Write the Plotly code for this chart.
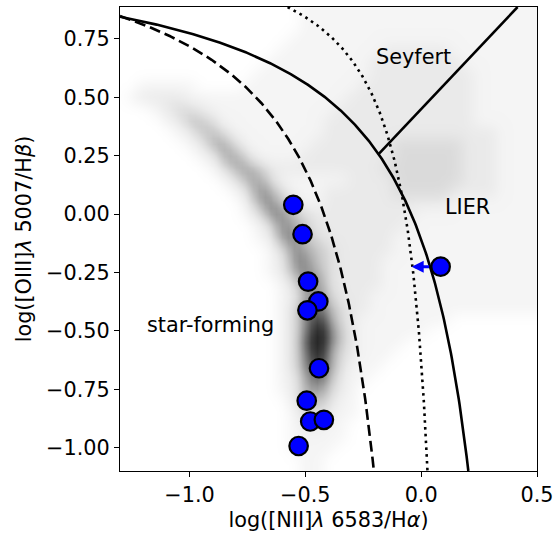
import numpy as np
import plotly.graph_objects as go

# ---- emission-line ratios of the sample -------------------------------
nii_ha = [-0.552, -0.512, -0.488, -0.444, -0.491, -0.441, -0.494, -0.479, -0.420, -0.529]
oiii_hb = [0.040, -0.086, -0.289, -0.374, -0.412, -0.660, -0.799, -0.888, -0.881, -0.993]

# object with only an upper limit on [NII]/Halpha
nii_ha_limit = [0.084]
oiii_hb_limit = [-0.225]

# ---- SDSS comparison sample: number-density levels (0 = empty, 9 = densest)
# bins of 0.05 dex; first row is log([OIII]/Hb) = 0.90, last row is -1.10,
# columns run from log([NII]/Ha) = -1.30 to 0.50
density_rows = [
    "0000000000000000111111111111111111111",
    "0000000000000000111111111111111111111",
    "0000000000000000111111111111111111111",
    "0000000000000001111111111111111111111",
    "0000000000000011111111122222211111111",
    "0000000000000111111111222222221111111",
    "0000000000001111111111222222222111111",
    "0011111000011111111112222222222111111",
    "0122221111111111111122222222222111111",
    "0001233211111111111222222222222111111",
    "0000124431111111112222222222222111111",
    "0000012443111111112222222222222221111",
    "0000001255311111122222223333332221111",
    "0000000125531111222222223333332221111",
    "0000000013554222222222233333332221111",
    "0000000001355311111122223333332221111",
    "0000000000136531112222223333322221111",
    "0000000000025643112222222222211111111",
    "0000000000013664322222222211111111111",
    "0000000000001365422222222111111111111",
    "0000000000001266432222221111111111111",
    "0000000000000136543222221111111111111",
    "0000000000000126643222211111111111111",
    "0000000000000125653222211111111111111",
    "0000000000000013663222211111111111111",
    "0000000000000012564222111111111111111",
    "0000000000000013675322111111111111111",
    "0000000000000013686321111111100000000",
    "0000000000000013697421111110000000000",
    "0000000000000013797421111000000000000",
    "0000000000000013696321110000000000000",
    "0000000000000013686311100000000000000",
    "0000000000000012575211000000000000000",
    "0000000000000012564210000000000000000",
    "0000000000000002443110000000000000000",
    "0000000000000001332110000000000000000",
    "0000000000000001221100000000000000000",
    "0000000000000001111100000000000000000",
    "0000000000000001111000000000000000000",
    "0000000000000000110000000000000000000",
    "0000000000000000110000000000000000000",
]

x_ticks = [-1.0, -0.5, 0.0, 0.5]
y_ticks = [-1.0, -0.75, -0.5, -0.25, 0.0, 0.25, 0.5, 0.75]

XMIN, XMAX = -1.3, 0.5
YMIN, YMAX = -1.1, 0.887
BIN = 0.05
ARROW_LEN = 0.125

FONT = "DejaVu Sans"
FS = 20.8


def fmt(v, nd):
    s = f"{v:.{nd}f}"
    return s.replace("-", "\u2212")


# ---- demarcation lines ------------------------------------------------
def kauffmann03(x):
    return 0.61 / (x - 0.05) + 1.3


def kewley01(x):
    return 0.61 / (x - 0.47) + 1.19


def sf_upper(x):
    return 0.255 / (x - 0.136) + 1.245


def schawinski07(x):
    return 1.05 * x + 0.45


def x_at(a, b, c, y):
    # invert y = a/(x-b)+c
    return b + a / (y - c)


xk03 = np.linspace(XMIN, x_at(0.61, 0.05, 1.3, YMIN), 400)
xk01 = np.linspace(XMIN, x_at(0.61, 0.47, 1.19, YMIN), 400)
xsf = np.linspace(x_at(0.255, 0.136, 1.245, YMAX), x_at(0.255, 0.136, 1.245, YMIN), 400)

# Kewley / Schawinski intersection
qa, qb, qc = 1.05, -(0.74 + 1.05 * 0.47), 0.74 * 0.47 - 0.61
x_int = (-qb - np.sqrt(qb * qb - 4 * qa * qc)) / (2 * qa)
xs07 = np.array([x_int, (YMAX - 0.45) / 1.05])

# ---- density image: refine the level grid by 2 and soften bin edges ---
z = np.array([[int(ch) for ch in row.ljust(37, "0")[:37]]
              for row in reversed(density_rows)], dtype=float)


def refine(a, axis):
    a = np.moveaxis(a, axis, 0)
    mid = 0.5 * (a[:-1] + a[1:])
    out = np.empty((2 * a.shape[0] - 1,) + a.shape[1:])
    out[0::2] = a
    out[1::2] = mid
    return np.moveaxis(out, 0, axis)


def soften(a, axis):
    a = np.moveaxis(a, axis, 0)
    p = np.concatenate([a[:1], a, a[-1:]])
    out = 0.25 * p[:-2] + 0.5 * p[1:-1] + 0.25 * p[2:]
    return np.moveaxis(out, 0, axis)


zf = refine(refine(z, 0), 1)
for _ in range(2):
    zf = soften(soften(zf, 0), 1)

fig = go.Figure()

greys = [
    [0.0, "#ffffff"], [1 / 9, "#f5f5f5"], [2 / 9, "#ebebeb"], [3 / 9, "#dddddd"],
    [4 / 9, "#c9c9c9"], [5 / 9, "#afafaf"], [6 / 9, "#8e8e8e"], [7 / 9, "#666666"],
    [8 / 9, "#3c3c3c"], [1.0, "#161616"],
]
fig.add_trace(go.Heatmap(
    z=zf, x0=XMIN, dx=BIN / 2, y0=YMIN, dy=BIN / 2, colorscale=greys, zmin=0, zmax=8.6,
    zsmooth="best", showscale=False, hoverinfo="skip"))

line_w = 2.6
fig.add_trace(go.Scatter(x=xk03, y=kauffmann03(xk03), mode="lines",
                         line=dict(color="black", width=line_w, dash="11px,5px"),
                         hoverinfo="skip"))
fig.add_trace(go.Scatter(x=xk01, y=kewley01(xk01), mode="lines",
                         line=dict(color="black", width=line_w), hoverinfo="skip"))
fig.add_trace(go.Scatter(x=xsf, y=sf_upper(xsf), mode="lines",
                         line=dict(color="black", width=line_w, dash="2.6px,4.2px"),
                         hoverinfo="skip"))
fig.add_trace(go.Scatter(x=xs07, y=schawinski07(xs07), mode="lines",
                         line=dict(color="black", width=line_w), hoverinfo="skip"))

marker = dict(color="#0000ff", size=18.5, line=dict(color="black", width=2.2))
fig.add_trace(go.Scatter(x=nii_ha, y=oiii_hb, mode="markers", marker=marker))
fig.add_trace(go.Scatter(x=nii_ha_limit, y=oiii_hb_limit, mode="markers", marker=marker))

for xl, yl in zip(nii_ha_limit, oiii_hb_limit):
    fig.add_annotation(x=xl - ARROW_LEN, y=yl, ax=xl, ay=yl, axref="x", ayref="y",
                       xref="x", yref="y", showarrow=True, text="",
                       arrowhead=2, arrowsize=0.8, arrowwidth=3,
                       arrowcolor="#0000ff", startstandoff=10, standoff=0)

for label, lx, ly in [("Seyfert", -0.031, 0.674), ("LIER", 0.202, 0.030),
                      ("star-forming", -0.91, -0.473)]:
    fig.add_annotation(x=lx, y=ly, text=label, showarrow=False,
                       font=dict(family=FONT, size=FS, color="black"))

axis_common = dict(showline=True, mirror=True, linecolor="black", linewidth=1.1,
                   ticks="outside", ticklen=5, tickwidth=1.1, tickcolor="black",
                   showgrid=False, zeroline=False,
                   tickfont=dict(family=FONT, size=FS, color="black"))

fig.update_layout(
    width=560, height=534,
    margin=dict(l=120, r=17, t=6, b=61),
    paper_bgcolor="white", plot_bgcolor="white",
    showlegend=False,
    font=dict(family=FONT, size=FS, color="black"),
    xaxis=dict(range=[XMIN, XMAX], tickvals=x_ticks,
               ticktext=[fmt(v, 1) for v in x_ticks],
               title=dict(text="log([NII]<i>λ</i> 6583/H<i>α</i>)",
                          font=dict(family=FONT, size=FS), standoff=6),
               **axis_common),
    yaxis=dict(range=[YMIN, YMAX], tickvals=y_ticks,
               ticktext=[fmt(v, 2) for v in y_ticks],
               title=dict(text="log([OIII]<i>λ</i> 5007/H<i>β</i>)",
                          font=dict(family=FONT, size=FS), standoff=8),
               **axis_common),
)

fig.write_html("out.html")
